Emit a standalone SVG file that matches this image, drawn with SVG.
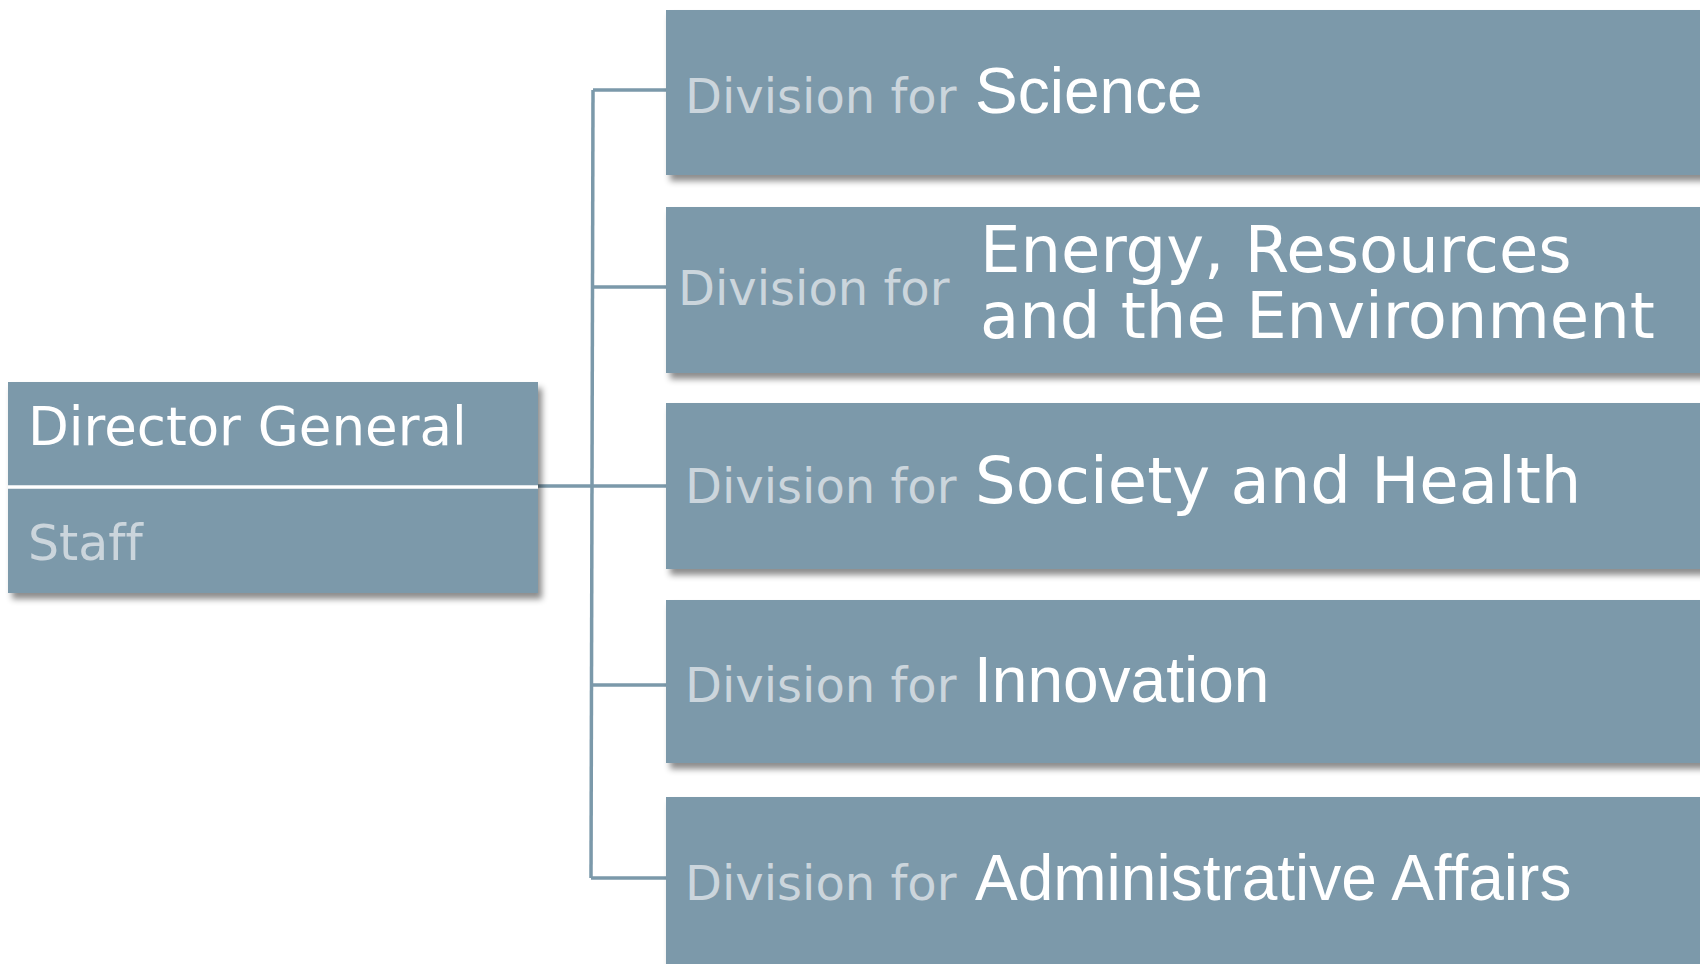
<svg xmlns="http://www.w3.org/2000/svg" width="1700" height="964" viewBox="0 0 1700 964">
<defs>
<filter id="sh" x="-5%" y="-20%" width="115%" height="150%">
<feDropShadow dx="4" dy="6" stdDeviation="3" flood-color="#000" flood-opacity="0.45"/>
</filter>
<style>
text{font-variant-ligatures:none;}
.box{fill:#7b99aa;filter:url(#sh);}
.pre{font-family:"DejaVu Sans",Verdana,sans-serif;font-size:48px;fill:#cbd5dc;}
.sans{font-family:"Liberation Sans",Arial,sans-serif;font-size:64px;fill:#ffffff;}
.dv{font-family:"DejaVu Sans",Verdana,sans-serif;font-size:64px;fill:#ffffff;}
.conn{stroke:#7b99aa;stroke-width:3.5;fill:none;}
</style>
</defs>
<rect width="1700" height="964" fill="#ffffff"/>
<g id="connectors">
<path class="conn" d="M538,486 H592"/>
<path class="conn" d="M593,90 L591,878"/>
<path class="conn" d="M593,90 H666"/>
<path class="conn" d="M593,287 H666"/>
<path class="conn" d="M592,486 H666"/>
<path class="conn" d="M591,685 H666"/>
<path class="conn" d="M591,878 H666"/>
</g>
<g id="director-general">
<rect class="box" x="8" y="382" width="530" height="211"/>
<line x1="8" y1="487" x2="538" y2="487" stroke="#ffffff" stroke-width="3.5"/>
<text class="dv" x="28" y="445" style="font-size:53px">Director General</text>
<text class="pre" x="28" y="560" style="font-size:49px">Staff</text>
</g>
<g id="div-science">
<rect class="box" x="666" y="10" width="1060" height="165"/>
<text class="pre" x="685" y="113">Division for</text>
<text class="sans" x="975" y="113">Science</text>
</g>
<g id="div-energy">
<rect class="box" x="666" y="207" width="1060" height="166"/>
<text class="pre" x="678" y="305">Division for</text>
<text class="dv" x="980" y="272">Energy, Resources</text>
<text class="dv" x="980" y="338">and the Environment</text>
</g>
<g id="div-society">
<rect class="box" x="666" y="403" width="1060" height="166"/>
<text class="pre" x="685" y="503">Division for</text>
<text class="dv" x="975" y="503">Society and Health</text>
</g>
<g id="div-innovation">
<rect class="box" x="666" y="600" width="1060" height="163"/>
<text class="pre" x="685" y="702">Division for</text>
<text class="sans" x="974" y="702">Innovation</text>
</g>
<g id="div-admin">
<rect class="box" x="666" y="797" width="1060" height="180"/>
<text class="pre" x="685" y="900">Division for</text>
<text class="sans" x="975" y="900">Administrative Affairs</text>
</g>
</svg>
